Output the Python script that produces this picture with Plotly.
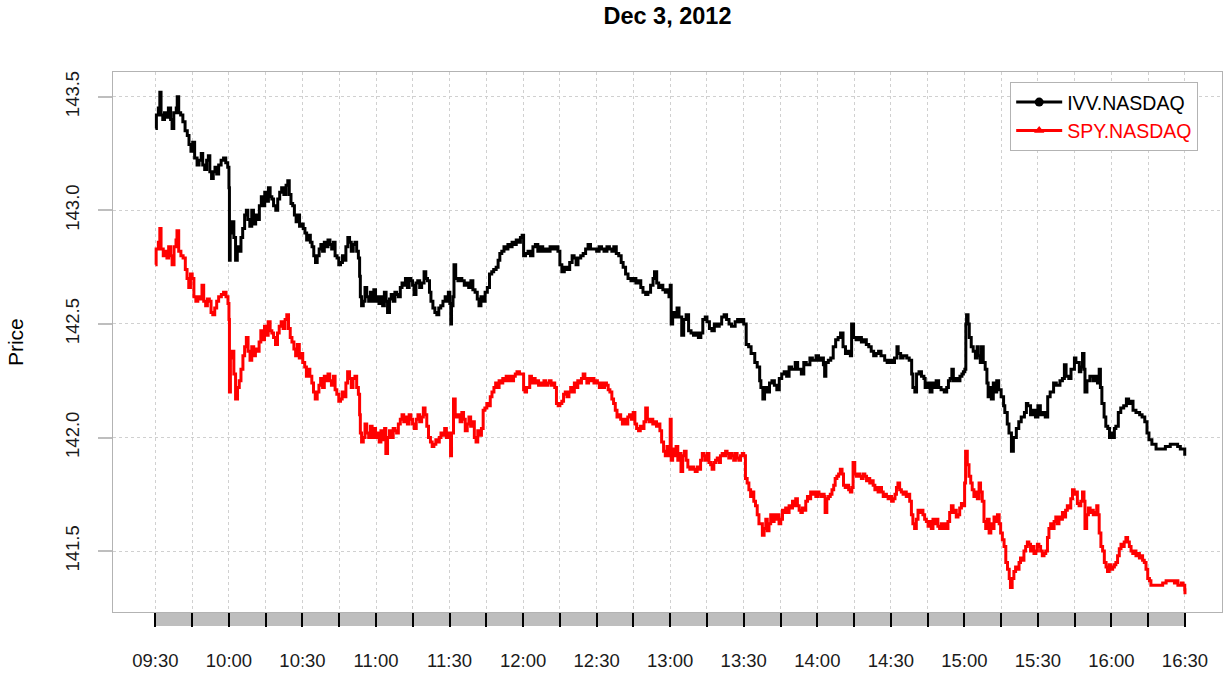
import pandas as pd
import plotly.graph_objects as go

# ---------------- data ----------------
chart_title = "Dec 3, 2012"
session_day = "2012-12-03"
session_open = "09:30"
session_close = "16:30"
y_axis_title = "Price"
series_names = ["IVV.NASDAQ", "SPY.NASDAQ"]
tick_labels = ["09:30", "10:00", "10:30", "11:00", "11:30", "12:00", "12:30", "13:00",
               "13:30", "14:00", "14:30", "15:00", "15:30", "16:00", "16:30"]
y_ticks = [141.5, 142.0, 142.5, 143.0, 143.5]

# minutes after the open, and price
ivv_minutes = [
    0, 0.4, 1.2, 1.8, 2.3, 3.0, 3.7, 4.5, 5.3, 6.2, 6.8, 7.5, 8.5, 8.9, 9.5, 10.3, 11.2, 12.1,
    13.0, 13.7, 14.5, 15.2, 16.0, 17.0, 17.8, 18.7, 19.3, 20.1, 20.9, 21.6, 22.2, 22.9, 23.6,
    24.3, 25.0, 25.8, 26.8, 27.8, 28.7, 29.5, 30.0, 30.2, 30.5, 31.2, 32.0, 32.7, 33.4, 34.2,
    34.9, 35.6, 36.4, 37.1, 37.7, 38.5, 39.3, 40.0, 40.9, 41.6, 42.4, 43.2, 43.9, 44.6, 45.3,
    46.1, 46.8, 47.5, 48.2, 49.1, 49.9, 50.7, 51.5, 52.4, 53.3, 54.0, 54.6, 55.3, 56.0, 56.7,
    57.4, 58.1, 58.8, 59.6, 60.3, 61.0, 61.7, 62.4, 63.2, 63.9, 64.6, 65.3, 66.0, 66.8, 67.5,
    68.2, 68.9, 69.7, 70.4, 71.2, 71.9, 72.6, 73.3, 74.1, 74.8, 75.5, 76.3, 77.0, 77.7, 78.5,
    79.2, 79.9, 80.7, 81.4, 82.1, 82.8, 83.3, 83.6, 84.1, 84.8, 85.5, 86.2, 87.0, 87.7, 88.4,
    89.1, 89.8, 90.5, 91.2, 92.0, 92.7, 93.4, 94.1, 94.7, 95.5, 96.2, 97.0, 97.7, 98.4, 99.1,
    99.9, 100.6, 101.3, 102.0, 102.8, 103.5, 104.2, 104.9, 105.5, 106.3,
    107.0, 107.8, 108.6, 109.6, 110.3, 111.0, 111.8, 112.4, 113.2, 114.0, 114.8, 115.6, 116.4,
    117.3, 118.2, 118.9, 119.5, 120.1, 120.5, 120.8, 121.4, 121.8, 122.5, 123.4, 124.2, 125.0,
    126.0, 127.0, 127.8, 128.7, 129.5, 130.4, 131.3, 132.0, 132.8, 133.6, 134.5, 135.4, 136.3,
    137.2, 138.0, 139.0, 139.8, 140.5, 141.3, 142.2, 143.0, 143.8, 144.6, 145.5, 146.3, 147.2,
    148.0, 148.9, 149.6, 150.2, 151.0, 152.0, 153.0, 154.0, 155.0, 156.0, 157.0, 158.0, 159.0,
    160.0, 161.0, 162.0, 163.0, 164.2, 165.0, 165.8, 166.8, 168.0, 169.0, 170.0, 170.8, 171.6,
    172.4, 173.5, 174.5, 175.5, 176.5, 177.5, 178.8, 180.0, 181.0, 182.0, 183.0, 184.2, 185.2,
    186.2, 187.0, 188.0, 189.0, 190.0, 190.8, 191.8, 192.8, 194.0, 195.0, 196.0, 197.0, 198.0,
    198.9, 200.0, 200.9, 202.0, 203.0, 203.6, 204.5, 205.3, 206.0, 207.0, 208.0, 208.8, 209.5,
    210.0, 210.4, 211.0, 212.0, 212.8, 213.6, 214.7, 215.5, 216.5, 217.5, 218.5, 219.5, 220.5,
    221.5, 222.5, 223.3, 224.3, 225.0, 226.0, 227.0, 228.0, 229.0, 230.0, 231.0, 232.0, 233.0,
    234.0, 235.0, 236.5, 237.5, 238.5, 239.5, 240.0, 241.0, 242.0, 243.0, 244.5, 245.5, 246.5,
    247.0, 247.8, 248.5, 249.5, 250.5, 251.5, 252.5, 253.5, 254.5, 255.5, 256.5, 257.5, 258.5,
    259.5, 261.0, 262.0, 263.5, 264.5, 265.5, 267.0, 268.0, 269.5, 270.5, 271.5, 272.5, 273.0,
    273.5, 274.5, 275.5, 276.5, 277.5, 278.5, 279.5, 280.5, 281.5, 282.5, 283.5, 284.0, 284.8,
    285.8, 287.0, 288.0, 289.0, 290.0, 291.0, 292.0, 293.0, 294.0, 295.0, 296.0, 297.5, 298.5,
    299.5, 300.5, 301.5, 302.5, 303.0, 304.0, 305.0, 306.5, 307.5, 308.5, 309.0, 309.8, 310.5,
    311.5, 312.5, 313.5, 314.0, 314.8, 316.0, 316.8, 317.4, 318.5, 319.5, 320.5, 321.8, 322.8,
    323.5, 324.2, 324.9, 325.5, 326.2, 327.2, 328.2, 329.0, 329.6, 330.2, 330.6, 330.9, 331.5,
    332.0, 332.8, 333.6, 334.5, 335.2, 335.7, 336.5, 337.0, 337.7, 338.5, 339.2, 339.7, 340.5,
    341.0, 341.8, 342.5, 343.2, 344.0, 345.0, 346.0, 346.5, 347.5, 348.2, 349.2, 350.0, 351.2,
    352.2, 353.2, 354.5, 355.3, 355.9, 357.0, 358.0, 359.0, 360.0, 361.0, 362.0, 363.0, 364.0,
    365.0, 366.4, 367.5, 369.0, 370.0, 370.8, 371.5, 372.6, 373.5, 374.9, 375.5, 376.9, 377.5,
    378.2, 378.8, 379.2, 380.0, 381.2, 382.5, 383.5, 384.3, 385.0, 385.5, 386.1, 387.0, 387.7,
    388.5, 389.2, 389.7, 390.5, 391.2, 391.8, 392.8, 393.8, 395.0, 396.1, 397.0, 398.0, 398.8,
    400.0, 401.5, 402.5, 403.6, 404.5, 405.3, 406.5, 408.2, 410.0, 412.0, 414.0, 415.4, 417.0,
    418.1, 419.0, 419.9,
]
ivv_price = [
    143.36, 143.42, 143.45, 143.52, 143.42, 143.40, 143.43, 143.41, 143.45, 143.40, 143.36,
    143.43, 143.45, 143.50, 143.43, 143.42, 143.39, 143.35, 143.33, 143.29, 143.26, 143.30,
    143.23, 143.20, 143.22, 143.25, 143.20, 143.18, 143.22, 143.24, 143.17, 143.14, 143.17,
    143.19, 143.16, 143.20, 143.22, 143.23, 143.21, 143.19, 143.10, 142.78, 142.90, 142.95,
    142.88, 142.78, 142.84, 142.82, 142.88, 142.92, 142.98, 143.00, 142.96, 142.93, 143.00,
    142.94, 142.98, 142.96, 143.02, 143.06, 143.02, 143.08, 143.04, 143.10, 143.06, 143.05,
    143.02, 143.00, 143.05, 143.08, 143.10, 143.07, 143.11, 143.13, 143.07, 143.03, 143.02,
    142.98, 142.95, 142.98, 142.93, 142.94, 142.92, 142.90, 142.87, 142.89, 142.86, 142.84,
    142.80, 142.77, 142.80, 142.83, 142.85, 142.82, 142.86, 142.84, 142.87, 142.85, 142.83,
    142.86, 142.80, 142.79, 142.76, 142.77, 142.80, 142.78, 142.84, 142.88, 142.86, 142.82,
    142.85, 142.86, 142.82, 142.79, 142.71, 142.62, 142.58, 142.60, 142.66, 142.62, 142.60,
    142.64, 142.60, 142.65, 142.60, 142.62, 142.59, 142.62, 142.58, 142.64, 142.60, 142.55,
    142.61, 142.63, 142.60, 142.64, 142.63, 142.62, 142.66, 142.68, 142.67, 142.70, 142.66,
    142.70, 142.69, 142.67, 142.63, 142.68,
    142.69, 142.66, 142.68, 142.73, 142.70, 142.69, 142.64, 142.60, 142.57, 142.55, 142.54,
    142.57, 142.58, 142.60, 142.62, 142.60, 142.64, 142.59, 142.50, 142.58, 142.62, 142.76,
    142.70, 142.69, 142.70, 142.69, 142.67, 142.68, 142.66, 142.69, 142.65, 142.64, 142.61,
    142.58, 142.62, 142.60, 142.64, 142.66, 142.72, 142.73, 142.74, 142.75, 142.78, 142.81,
    142.82, 142.84, 142.83, 142.85, 142.84, 142.86, 142.85, 142.87, 142.86, 142.88, 142.89,
    142.80, 142.81, 142.82, 142.80, 142.84, 142.85, 142.82, 142.84, 142.82, 142.83, 142.82,
    142.84, 142.83, 142.84, 142.82, 142.76, 142.73, 142.75, 142.74, 142.77, 142.80, 142.79,
    142.76, 142.79, 142.80, 142.81, 142.83, 142.85, 142.83, 142.83, 142.82, 142.84, 142.83,
    142.82, 142.84, 142.83, 142.82, 142.84, 142.81, 142.80, 142.77, 142.75, 142.72, 142.70,
    142.69, 142.70, 142.68, 142.69, 142.66, 142.64, 142.63, 142.64, 142.67, 142.70, 142.73,
    142.68, 142.66, 142.67, 142.65, 142.64, 142.65, 142.62, 142.67, 142.50, 142.55, 142.53,
    142.57, 142.53, 142.45, 142.52, 142.54, 142.47, 142.46, 142.45, 142.46, 142.44, 142.46,
    142.52, 142.53, 142.51, 142.48, 142.47, 142.50, 142.49, 142.50, 142.53, 142.54, 142.52,
    142.50, 142.49, 142.51, 142.52, 142.51, 142.52, 142.50, 142.41, 142.40, 142.37, 142.33,
    142.31, 142.25, 142.22, 142.17, 142.22, 142.20, 142.24, 142.25, 142.23, 142.21, 142.26,
    142.28, 142.29, 142.27, 142.31, 142.30, 142.33, 142.30, 142.28, 142.33, 142.32, 142.35,
    142.34, 142.36, 142.34, 142.35, 142.32, 142.27, 142.33, 142.34, 142.35, 142.40, 142.43,
    142.44, 142.46, 142.40, 142.37, 142.38, 142.36, 142.50, 142.44, 142.43, 142.44, 142.42,
    142.43, 142.41, 142.40, 142.38, 142.36, 142.37, 142.38, 142.36, 142.34, 142.33, 142.34,
    142.33, 142.35, 142.40, 142.37, 142.35, 142.36, 142.35, 142.34, 142.28, 142.22, 142.20,
    142.28, 142.29, 142.27, 142.26, 142.22, 142.24, 142.20, 142.24, 142.22, 142.25, 142.22,
    142.21, 142.20, 142.22, 142.25, 142.26, 142.30, 142.25, 142.26, 142.25, 142.27, 142.28,
    142.29, 142.30, 142.50, 142.54, 142.50, 142.44, 142.40, 142.38, 142.35, 142.40, 142.36,
    142.33, 142.40, 142.33, 142.30, 142.24, 142.18, 142.22, 142.17, 142.24, 142.20, 142.25,
    142.21, 142.18, 142.14, 142.11, 142.06, 142.02, 141.94, 142.00, 142.04, 142.07, 142.09,
    142.11, 142.15, 142.14, 142.10, 142.12, 142.09, 142.14, 142.10, 142.11, 142.09, 142.18,
    142.20, 142.24, 142.23, 142.25, 142.26, 142.32, 142.27, 142.26, 142.30, 142.35, 142.33,
    142.29, 142.31, 142.37, 142.30, 142.20, 142.25, 142.27, 142.25, 142.27, 142.24, 142.30,
    142.22, 142.15, 142.09, 142.05, 142.04, 142.00, 142.02, 142.00, 142.04, 142.05, 142.11,
    142.13, 142.14, 142.17, 142.15, 142.16, 142.12, 142.11, 142.10, 142.09, 142.07, 142.02,
    141.99, 141.97, 141.95, 141.95, 141.96, 141.97, 141.97, 141.96, 141.95, 141.95, 141.92,
]

spy_minutes = [
    0, 0.3, 1.2, 1.8, 2.3, 3.2, 4.0, 4.7, 5.4, 6.2, 6.8, 7.6, 8.4, 8.8, 9.5, 10.4, 11.3, 12.2,
    12.9, 13.6, 14.3, 15.0, 15.7, 16.5, 17.3, 18.1, 19.0, 19.7, 20.5, 21.2, 22.0, 22.7, 23.4,
    24.2, 25.0, 25.8, 26.9, 27.8, 28.8, 29.6, 30.0, 30.2, 30.6, 31.3, 32.0, 32.7, 33.5, 34.2,
    34.9, 35.7, 36.4, 37.1, 37.8, 38.6, 39.3, 40.1, 40.8, 41.5, 42.3, 43.0, 43.8, 44.5, 45.3,
    46.0, 46.8, 47.5, 48.2, 49.0, 49.8, 50.5, 51.3, 52.1, 52.9, 53.6, 54.3, 55.0, 55.7, 56.5,
    57.2, 57.9, 58.7, 59.4, 60.1, 60.9, 61.6, 62.3, 63.0, 63.8, 64.5, 65.2, 66.0, 66.7, 67.4,
    68.2, 68.9, 69.6, 70.4, 71.1, 71.8, 72.6, 73.3, 74.0, 74.8, 75.5, 76.2, 77.0, 77.7, 78.4,
    79.2, 79.9, 80.6, 81.4, 82.1, 82.8, 83.3, 83.6, 84.1, 84.8, 85.5, 86.2, 87.0, 87.7, 88.4,
    89.1, 89.8, 90.6, 91.3, 92.0, 92.8, 93.5, 94.0, 94.7, 95.5, 96.2, 97.0, 97.7, 98.4, 99.1,
    99.9, 100.6, 101.3, 102.0, 102.8, 103.5, 104.2, 104.9, 105.6, 106.4, 107.1, 107.8, 108.6,
    109.3, 110.0, 110.7, 111.4, 112.2, 112.9, 113.6, 114.4, 115.1, 115.8, 116.5, 117.3, 118.0,
    118.7, 119.4, 120.4, 120.8, 121.6, 122.3, 122.8, 123.5, 124.3, 125.0, 125.7, 126.4, 127.2,
    127.9, 128.6, 129.3, 130.1, 130.8, 131.5, 132.2, 133.0, 133.7, 134.4, 135.2, 135.9, 136.6,
    137.3, 138.1, 138.8, 139.5, 140.2, 141.0, 141.7, 142.4, 143.1, 143.9, 144.6, 145.3, 146.1,
    146.8, 147.5, 148.5, 149.6, 150.2, 150.8, 151.4, 152.0, 152.7, 153.4, 154.2, 154.9, 155.6,
    156.3, 157.1, 157.8, 158.5, 159.2, 160.0, 160.7, 161.4, 162.1, 162.9, 163.6, 164.3, 165.0,
    165.8, 166.5, 167.2, 167.9, 168.7, 169.4, 170.1, 170.9, 171.6, 172.3, 173.0, 173.8, 174.5,
    175.2, 176.0, 176.7, 177.4, 178.1, 178.9, 179.6, 180.3, 181.1, 181.8, 182.5, 183.2, 184.0,
    184.7, 185.4, 186.2, 186.9, 187.6, 188.3, 189.1, 189.8, 190.5, 191.3, 192.0, 192.7, 193.4,
    194.2, 194.9, 195.6, 196.3, 197.1, 197.8, 198.5, 199.3, 200.0, 200.7, 201.4, 202.2, 202.9,
    203.6, 204.4, 205.1, 205.8, 206.5, 207.3, 208.0, 208.7, 209.4,
    210.0, 210.4, 211.0, 211.7, 212.4, 213.1, 213.8, 214.4, 215.1, 215.8, 216.5, 217.2, 218.0,
    218.8, 219.5, 220.2, 221.0, 221.7, 222.4, 223.1, 223.7, 224.4, 225.1, 225.8, 226.5, 227.1,
    227.8, 228.5, 229.2, 229.9, 230.5, 231.2, 231.9, 232.6, 233.2, 233.9, 234.6, 235.3, 235.9,
    236.6, 237.3, 238.0, 238.7, 239.4, 240.0, 240.7, 241.4, 242.1, 242.8, 243.5, 244.1, 244.8,
    245.5, 246.2, 246.9, 247.6, 248.3, 249.0, 249.6, 250.3, 251.0, 251.7, 252.4, 253.1, 253.7,
    254.4, 255.1, 255.8, 256.5, 257.1, 257.8, 258.5, 259.2, 259.9, 260.5, 261.2, 261.9, 262.6,
    263.3, 263.9, 264.6, 265.3, 266.0, 266.7, 267.3, 268.0, 268.7, 269.4, 270.1, 270.7, 271.4,
    272.1, 272.8, 273.2, 273.9, 274.6, 275.3, 276.0, 276.7, 277.3, 278.0, 278.7, 279.4, 280.1,
    280.7, 281.4, 282.1, 282.8, 283.5, 284.1, 284.6, 285.3, 286.0, 286.7, 287.3, 288.0, 288.7,
    289.4, 290.1, 290.7, 291.4, 292.1, 292.8, 293.5, 294.1, 294.8, 295.5, 296.2, 296.9, 297.6,
    298.2, 298.9, 299.6, 300.3, 301.0, 301.7, 302.3, 302.9, 303.6, 304.3, 305.0, 305.6, 306.3,
    307.0, 307.7, 308.4, 309.0, 309.7, 310.4, 311.1, 311.8, 312.4, 313.1, 313.8, 314.5, 315.2,
    315.8, 316.5, 317.2, 317.9, 318.6, 319.2, 319.9, 320.6, 321.3, 322.0, 322.6, 323.3, 324.0,
    324.7, 325.4, 326.0, 326.7, 327.4, 328.1, 328.8, 329.4, 330.1, 330.5, 331.2, 331.9, 332.6,
    333.2, 333.9, 334.6, 335.3, 336.0, 336.6, 337.3, 338.0, 338.7, 339.4, 340.1, 340.8, 341.4,
    342.1, 342.8, 343.5, 344.2, 344.8, 345.5, 346.2, 346.9, 347.6, 348.3, 348.8, 349.5, 350.2,
    350.9, 351.6, 352.3, 352.9, 353.6, 354.3, 355.0, 355.7, 356.3, 357.0, 357.7, 358.4, 359.1,
    359.8, 360.4, 361.1, 361.8, 362.5, 363.2, 363.9, 364.5, 365.2, 365.9, 366.6, 367.3, 367.9,
    368.6, 369.3, 370.0, 370.7, 371.3, 372.0, 372.7, 373.4, 374.1, 374.8, 375.4, 376.1, 376.8,
    377.5, 378.2, 378.8, 379.2, 379.9, 380.6, 381.3, 382.0, 382.6, 383.3, 384.0, 384.5, 385.0,
    385.7, 386.4, 387.1, 387.8, 388.4, 389.1, 389.8, 390.5, 391.2, 391.8, 392.5, 393.2, 393.9,
    394.6, 395.2, 395.9, 396.6, 397.3, 398.0, 398.7, 399.3, 400.0, 400.7, 401.4, 402.1, 402.7,
    403.4, 404.1, 404.8, 405.5, 406.1, 406.8, 408.2, 409.6, 410.9, 412.3, 413.7, 415.0, 415.7,
    416.4, 417.1, 417.8, 418.5, 419.2, 419.9, 420.0,
]
spy_price = [
    142.76, 142.83, 142.86, 142.92, 142.83, 142.80, 142.82, 142.79, 142.84, 142.80, 142.76,
    142.84, 142.87, 142.91, 142.82, 142.80, 142.79, 142.74, 142.70, 142.66, 142.72, 142.70,
    142.62, 142.60, 142.62, 142.61, 142.67, 142.60, 142.58, 142.61, 142.60, 142.55, 142.54,
    142.57, 142.60, 142.62, 142.63, 142.64, 142.62, 142.59, 142.52, 142.20, 142.35, 142.38,
    142.28, 142.17, 142.22, 142.25, 142.30, 142.36, 142.40, 142.44, 142.38, 142.34, 142.40,
    142.36, 142.39, 142.38, 142.42, 142.47, 142.43, 142.49, 142.45, 142.51, 142.47, 142.46,
    142.44, 142.41, 142.46, 142.49, 142.51, 142.48, 142.52, 142.54, 142.48, 142.44, 142.42,
    142.39, 142.36, 142.41, 142.35, 142.37, 142.33, 142.31, 142.27, 142.30, 142.27, 142.24,
    142.20, 142.17, 142.20, 142.23, 142.26, 142.22, 142.27, 142.25, 142.28, 142.25, 142.23,
    142.27, 142.21, 142.19, 142.16, 142.17, 142.20, 142.18, 142.24, 142.29, 142.26, 142.22,
    142.26, 142.27, 142.22, 142.19, 142.10, 142.02, 141.98, 142.00, 142.06, 142.02, 142.00,
    142.05, 142.00, 142.04, 142.00, 142.02, 141.98, 142.03, 141.99, 142.04, 141.93, 142.00,
    142.03, 142.00, 142.04, 142.03, 142.02, 142.06, 142.08, 142.10, 142.07, 142.09, 142.06,
    142.10, 142.08, 142.06, 142.04, 142.08, 142.10, 142.07, 142.09, 142.13, 142.10, 142.05,
    142.00, 141.98, 141.96, 141.97, 141.99, 141.98, 142.00, 142.02, 142.01, 142.04, 142.00,
    142.02, 141.92, 142.02, 142.17, 142.10, 142.09, 142.10, 142.07, 142.11, 142.08, 142.03,
    142.06, 142.09, 142.05, 142.07, 142.00, 141.98, 142.03, 142.01, 142.04, 142.12, 142.13,
    142.15, 142.14, 142.18, 142.20, 142.22, 142.24, 142.22, 142.25, 142.24, 142.26, 142.25,
    142.27, 142.25, 142.27, 142.25, 142.27, 142.28, 142.29, 142.28, 142.28, 142.21, 142.20,
    142.22, 142.22, 142.27, 142.24, 142.26, 142.24, 142.25, 142.23, 142.24, 142.23, 142.25,
    142.23, 142.24, 142.25, 142.23, 142.24, 142.22, 142.15, 142.14, 142.15, 142.16, 142.19,
    142.20, 142.18, 142.20, 142.22, 142.20, 142.24, 142.22, 142.25, 142.24, 142.26, 142.28,
    142.26, 142.24, 142.26, 142.25, 142.26, 142.24, 142.25, 142.24, 142.22, 142.24, 142.22,
    142.24, 142.23, 142.21, 142.20, 142.17, 142.15, 142.12, 142.09, 142.10, 142.08, 142.06,
    142.08, 142.06, 142.09, 142.10, 142.08, 142.11, 142.06, 142.04, 142.03, 142.05, 142.04,
    142.07, 142.13, 142.08, 142.07, 142.08, 142.06, 142.07, 142.05, 142.06, 142.03, 141.98,
    141.94, 141.92, 141.96, 141.92,
    142.08, 141.90, 141.95, 141.92, 141.96, 141.90, 141.93, 141.85, 141.92, 141.94, 141.90,
    141.87, 141.86, 141.87, 141.86, 141.85, 141.87, 141.86, 141.90, 141.93, 141.92, 141.90,
    141.93, 141.89, 141.88, 141.86, 141.89, 141.90, 141.91, 141.89, 141.92, 141.93, 141.92,
    141.94, 141.93, 141.91, 141.93, 141.92, 141.90, 141.93, 141.91, 141.90, 141.92, 141.93,
    141.92, 141.82, 141.80, 141.77, 141.74, 141.76, 141.72, 141.70, 141.66, 141.62, 141.62,
    141.57, 141.60, 141.64, 141.59, 141.62, 141.66, 141.63, 141.66, 141.64, 141.66, 141.62,
    141.64, 141.68, 141.67, 141.69, 141.67, 141.70, 141.69, 141.72, 141.70, 141.73, 141.70,
    141.68, 141.67, 141.69, 141.68, 141.72, 141.74, 141.73, 141.76, 141.75, 141.76, 141.74,
    141.76, 141.75, 141.74, 141.75, 141.74, 141.67, 141.73, 141.74, 141.75, 141.77, 141.79,
    141.82, 141.83, 141.84, 141.86, 141.84, 141.79, 141.78, 141.79, 141.77, 141.76, 141.78,
    141.89, 141.84, 141.83, 141.84, 141.83, 141.82, 141.84, 141.83, 141.81, 141.82, 141.80,
    141.81, 141.79, 141.77, 141.78, 141.76, 141.78, 141.76, 141.74, 141.75, 141.74, 141.73,
    141.74, 141.72, 141.73, 141.75, 141.78, 141.80, 141.77, 141.76, 141.75, 141.76, 141.74,
    141.75, 141.72, 141.66, 141.62, 141.60, 141.64, 141.68, 141.67, 141.68, 141.66, 141.64,
    141.63, 141.61, 141.63, 141.60, 141.64, 141.62, 141.64, 141.61, 141.60, 141.62, 141.60,
    141.62, 141.60, 141.63, 141.67, 141.70, 141.67, 141.68, 141.65, 141.66, 141.69, 141.71,
    141.70, 141.80, 141.94, 141.88, 141.83, 141.80, 141.77, 141.74, 141.76, 141.73, 141.80,
    141.76, 141.72, 141.63, 141.60, 141.64, 141.58, 141.62, 141.60, 141.65, 141.63, 141.66,
    141.62, 141.58, 141.55, 141.52, 141.45, 141.42, 141.38, 141.34, 141.38, 141.41, 141.43,
    141.42, 141.45, 141.47, 141.46, 141.50, 141.52, 141.54, 141.53, 141.50, 141.52, 141.49,
    141.50, 141.53, 141.52, 141.50, 141.48, 141.49, 141.50, 141.56, 141.60, 141.62, 141.60,
    141.63, 141.65, 141.62, 141.65, 141.64, 141.67, 141.65, 141.68, 141.70, 141.69, 141.73,
    141.77, 141.75, 141.76, 141.71, 141.70, 141.72, 141.76, 141.72, 141.60, 141.66, 141.69,
    141.67, 141.68, 141.66, 141.67, 141.70, 141.66, 141.58, 141.52, 141.50, 141.45, 141.43,
    141.41, 141.44, 141.42, 141.43, 141.44, 141.45, 141.48, 141.51, 141.53, 141.52, 141.54,
    141.56, 141.54, 141.52, 141.50, 141.49, 141.50, 141.48, 141.49, 141.47, 141.48, 141.46,
    141.45, 141.42, 141.38, 141.37, 141.35, 141.35, 141.35, 141.35, 141.36, 141.37, 141.37,
    141.37, 141.36, 141.37, 141.35, 141.35, 141.36, 141.35, 141.33, 141.31,
]

# ---------------- build ----------------
FONT = "Liberation Sans, Arial, Helvetica, sans-serif"
base = pd.Timestamp(f"{session_day} {session_open}")
close = pd.Timestamp(f"{session_day} {session_close}")
ivv_t = [base + pd.Timedelta(minutes=m) for m in ivv_minutes]
spy_t = [base + pd.Timedelta(minutes=m) for m in spy_minutes]
tick_vals = [pd.Timestamp(f"{session_day} {lab}") for lab in tick_labels]
quarter_vals = list(pd.date_range(base, close, freq="15min"))

colors = ["#000000", "#FF0000"]
symbols = ["circle", "triangle-up"]
LW = 3

fig = go.Figure()
for t, p, c in [(ivv_t, ivv_price, colors[0]), (spy_t, spy_price, colors[1])]:
    fig.add_trace(go.Scatter(x=t, y=p, mode="lines",
                             line=dict(color=c, width=LW, shape="hv"),
                             showlegend=False, hoverinfo="skip"))
# legend entries (line + marker)
for name, c, s in zip(series_names, colors, symbols):
    fig.add_trace(go.Scatter(x=[None], y=[None], mode="lines+markers",
                             name=f'<span style="color:{c}">{name}</span>',
                             line=dict(color=c, width=LW),
                             marker=dict(color=c, symbol=s, size=9)))

x_range = [base - pd.Timedelta(minutes=17.3), base + pd.Timedelta(minutes=435.1)]
y_range = [141.232, 143.609]

# grey time bar under the plot
fig.add_shape(type="rect", xref="x", yref="paper", x0=quarter_vals[0], x1=quarter_vals[-1],
              y0=0, y1=-14 / 544, fillcolor="#BEBEBE", line=dict(width=0), layer="below")

fig.update_layout(
    width=1227, height=675,
    margin=dict(l=113, r=4, t=72, b=59),
    paper_bgcolor="white", plot_bgcolor="white",
    font=dict(family=FONT, size=18, color="black"),
    title=dict(text=f"<b>{chart_title}</b>", x=0.5, xref="paper", xanchor="center",
               y=1 - 16 / 675, yref="container", yanchor="middle",
               font=dict(family=FONT, size=23.5, color="black")),
    showlegend=True,
    legend=dict(x=(1011 - 113) / 1110, y=(616 - 82) / 544, xanchor="left", yanchor="top",
                bgcolor="white", bordercolor="#B3B3B3", borderwidth=1,
                font=dict(family=FONT, size=19.5, color="black"),
                itemwidth=46, tracegroupgap=0),
    xaxis=dict(
        type="date", range=x_range,
        tickmode="array", tickvals=tick_vals, ticktext=tick_labels,
        ticks="outside", ticklen=14, tickwidth=2, tickcolor="black",
        ticklabelstandoff=18,
        tickfont=dict(family=FONT, size=18.5, color="#1a1a1a"),
        showgrid=True, gridcolor="#D0D0D0", gridwidth=1, griddash="dot",
        minor=dict(tickmode="array", tickvals=quarter_vals, ticks="outside", ticklen=14,
                   tickwidth=2, tickcolor="black", showgrid=True, gridcolor="#D0D0D0",
                   gridwidth=1, griddash="dot"),
        showline=True, linecolor="#B3B3B3", linewidth=1, mirror=True,
        zeroline=False,
    ),
    yaxis=dict(
        range=y_range,
        tickmode="array", tickvals=y_ticks, ticktext=[f"{v:.1f}" for v in y_ticks],
        ticks="outside", ticklen=14, tickwidth=2, tickcolor="#BEBEBE",
        tickangle=-90, ticklabelstandoff=12,
        tickfont=dict(family=FONT, size=18.5, color="#1a1a1a"),
        showgrid=True, gridcolor="#D0D0D0", gridwidth=1, griddash="dot",
        showline=True, linecolor="#B3B3B3", linewidth=1, mirror=True,
        zeroline=False,
    ),
)

fig.add_annotation(text=y_axis_title, xref="paper", yref="paper",
                   x=(15 - 113) / 1110, y=0.5, xanchor="center", yanchor="middle",
                   textangle=-90, showarrow=False,
                   font=dict(family=FONT, size=21, color="black"))

fig.write_html("out.html")
